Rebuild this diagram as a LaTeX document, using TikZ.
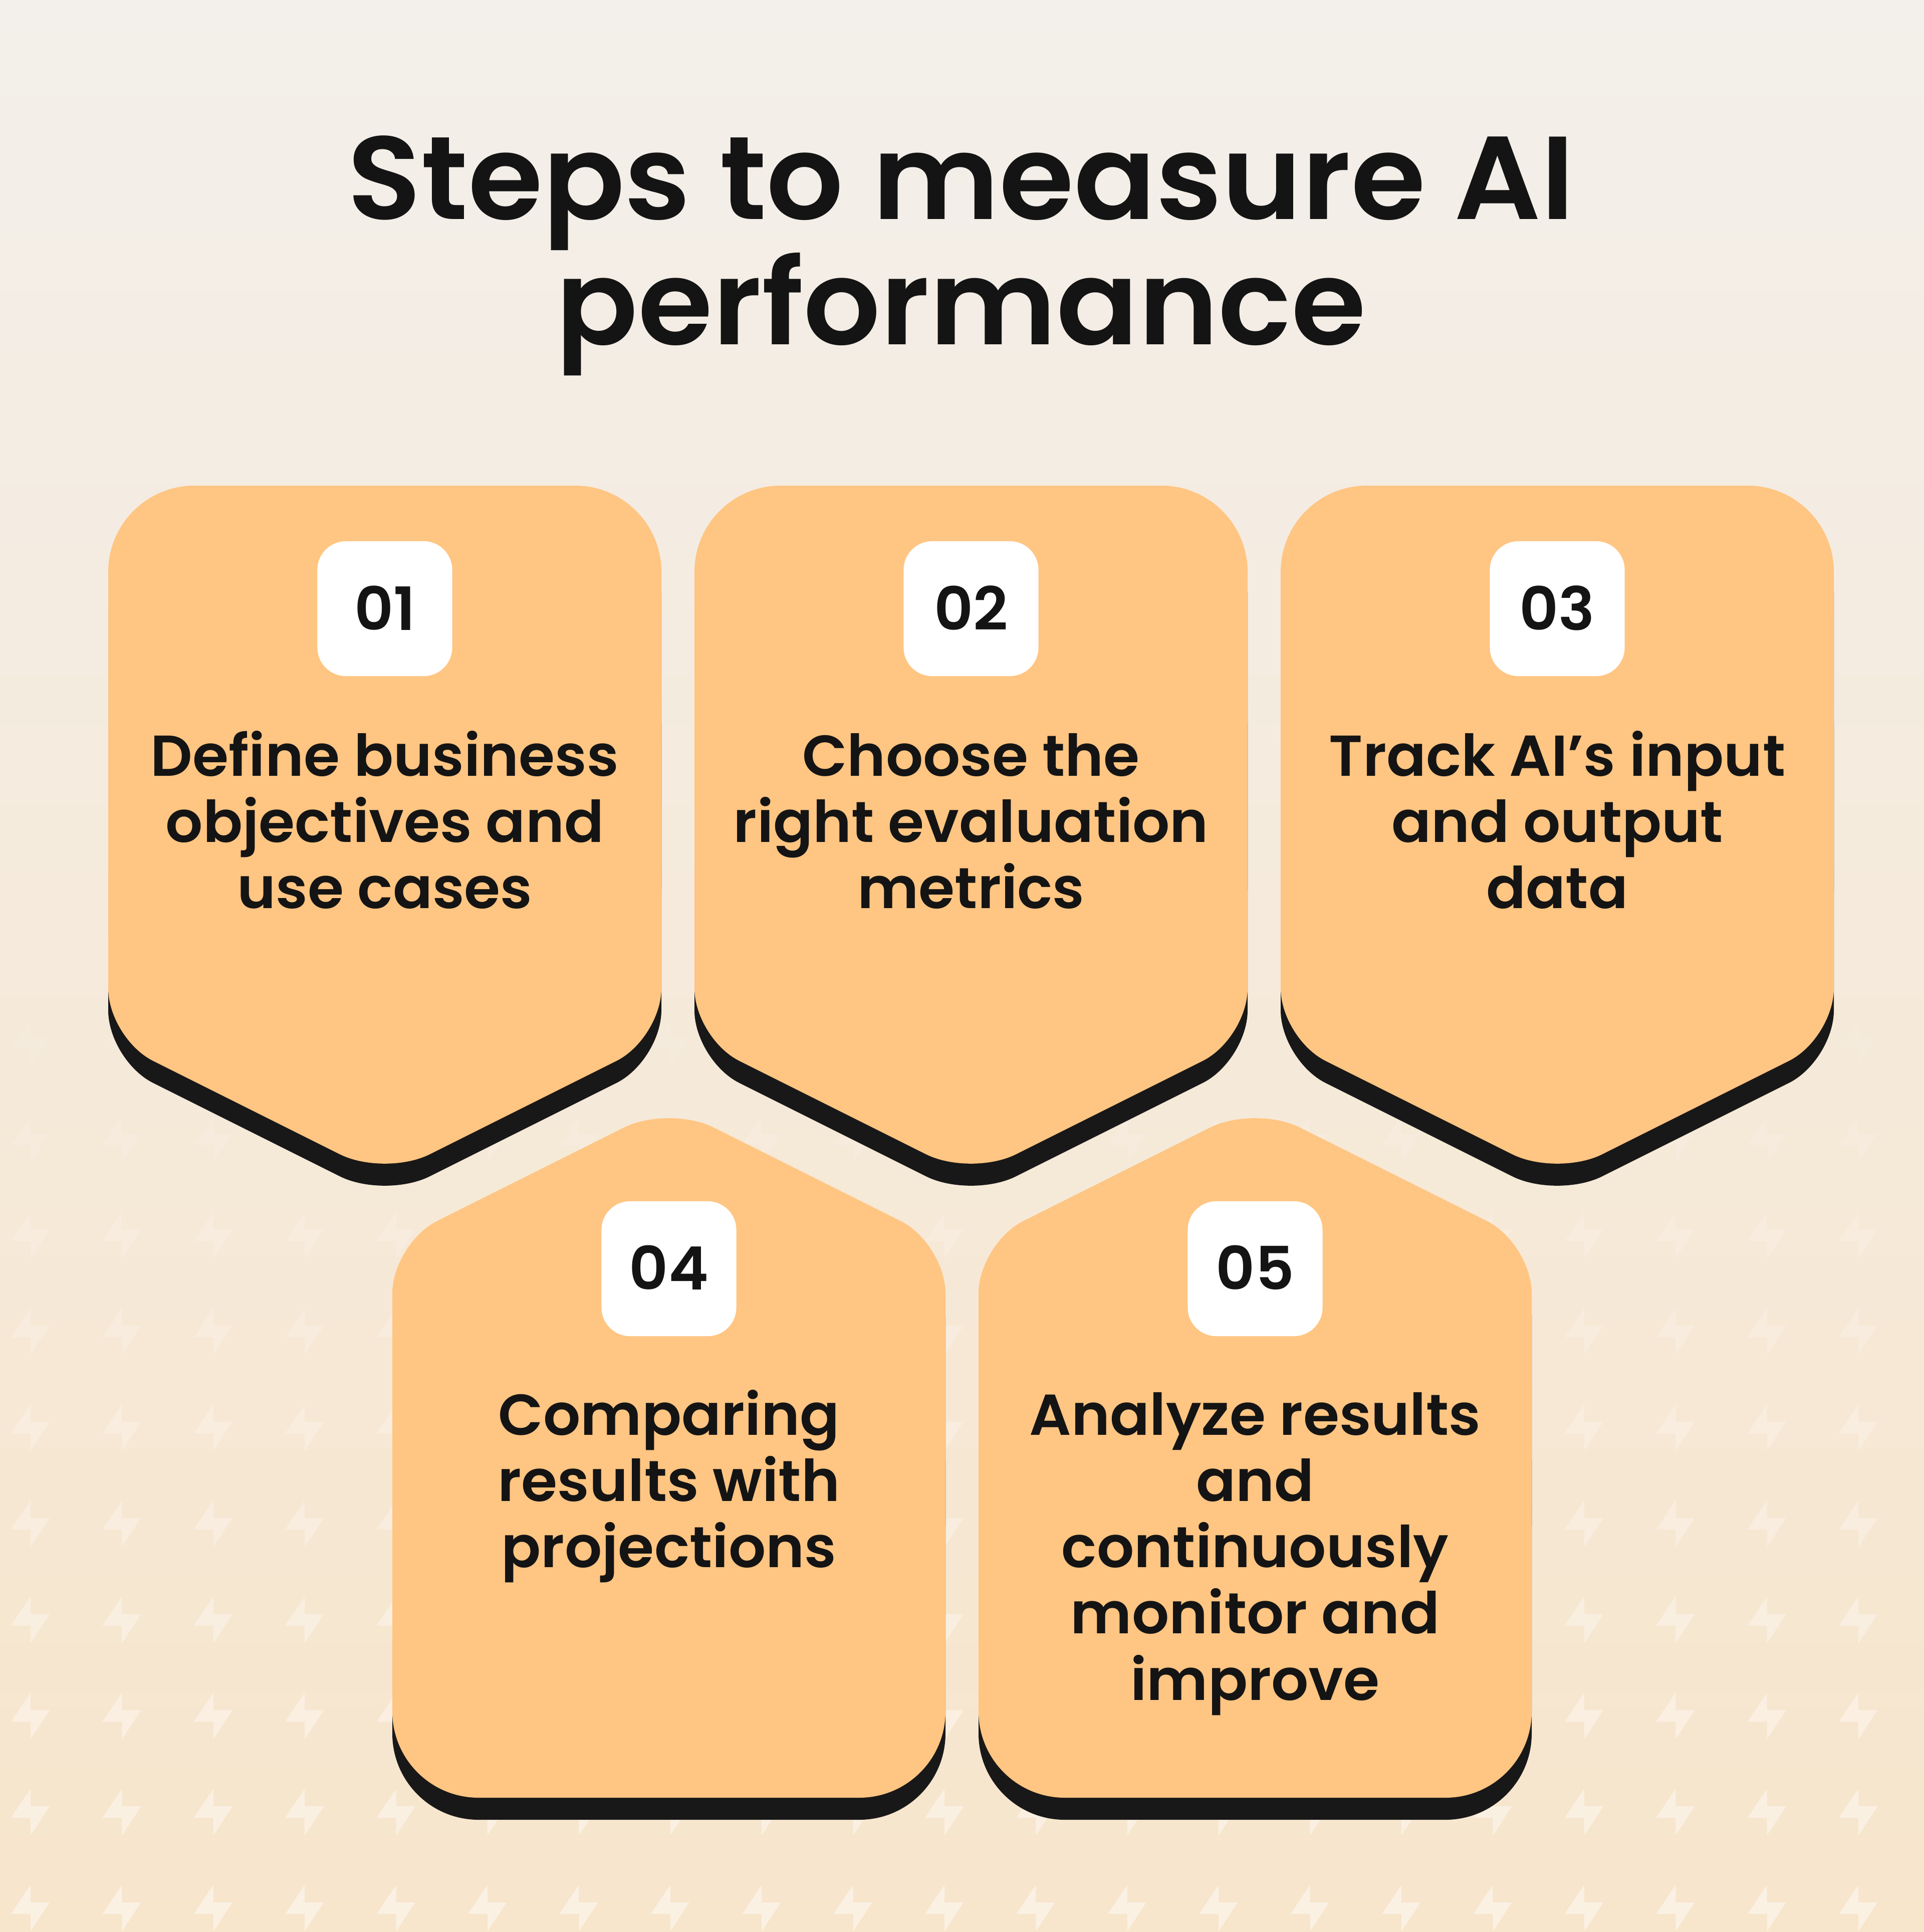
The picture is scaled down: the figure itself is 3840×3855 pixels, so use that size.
\documentclass[tikz,border=0pt]{standalone}
\usepackage{fontspec}
\setmainfont{Poppins}[BoldFont={Poppins SemiBold}, FakeStretch=1.015]
\newfontfamily\titlefont{Poppins}[BoldFont={Poppins SemiBold}, FakeStretch=1.025]
\definecolor{bgtop}{RGB}{243,239,234}
\definecolor{bgbot}{RGB}{247,229,204}
\definecolor{cardorange}{RGB}{255,197,130}
\definecolor{shadowblack}{RGB}{24,24,24}
\definecolor{inkblack}{RGB}{20,20,20}
\tikzset{
  cardfill/.style={fill=cardorange},
  shadowfill/.style={fill=shadowblack},
  numbox/.style={fill=white, rounded corners=0.57cm, minimum width=2.69cm, minimum height=2.69cm, inner sep=0pt},
  numtext/.style={font=\fontsize{33.9pt}{40pt}\selectfont\bfseries, text=inkblack, inner sep=0pt, anchor=base},
  cardtext/.style={font=\fontsize{32.7pt}{37.55pt}\selectfont\bfseries, text=inkblack, align=center, inner sep=0pt, anchor=north},
  titletext/.style={font=\titlefont\fontsize{67pt}{71.1pt}\selectfont\bfseries, text=inkblack, align=center, inner sep=0pt, anchor=north},
  bolt/.style={fill=white}
}
% card pointing down: #1 centre x, #2 style
\newcommand{\downcard}[2]{%
  \fill[#2, rounded corners=1.72cm] ({#1-552},-969) rectangle ({#1+552},-1900);
  \fill[#2, rounded corners=1cm] ({#1-552},-1300) -- ({#1-552},-2072) -- (#1,-2348) -- ({#1+552},-2072) -- ({#1+552},-1300) -- cycle;
}
% card pointing up: #1 centre x, #2 style
\newcommand{\upcard}[2]{%
  \fill[#2, rounded corners=1.72cm] ({#1-552},-2700) rectangle ({#1+552},-3587);
  \fill[#2, rounded corners=1cm] ({#1-552},-3100) -- ({#1-552},-2481) -- (#1,-2205) -- ({#1+552},-2481) -- ({#1+552},-3100) -- cycle;
}
\begin{document}
\begin{tikzpicture}[x=0.01cm, y=0.01cm]
\useasboundingbox (0,0) rectangle (3840,-3855);
\shade[top color=bgtop, bottom color=bgbot] (0,0) rectangle (3840,-3855);
% lightning pattern
\foreach \j in {0,...,9} {
  \pgfmathsetmacro\yy{3761-191.8*\j}
  \pgfmathsetmacro\op{max(0,(\yy-1700)/2000*0.45)}
  \foreach \i in {0,...,20} {
    \pgfmathsetmacro\xx{61+182.4*\i}
    \fill[bolt, fill opacity=\op] (\xx,-\yy) -- ++(0,-35) -- ++(38,0) -- (\xx,{-\yy-93}) -- (\xx,{-\yy-58}) -- ++(-39,0) -- cycle;
  }
}
% shadows
\begin{scope}[yshift=-0.44cm]
  \downcard{768}{shadowfill}
  \downcard{1938}{shadowfill}
  \downcard{3108}{shadowfill}
  \upcard{1335}{shadowfill}
  \upcard{2505}{shadowfill}
\end{scope}
% cards
\downcard{768}{cardfill}
\downcard{1938}{cardfill}
\downcard{3108}{cardfill}
\upcard{1335}{cardfill}
\upcard{2505}{cardfill}
% title
\node[titletext] (title) at (1918,-187) {\rule{0pt}{2.5cm}Steps to measure AI\\performance};
% number boxes
\node[numbox] (b1) at (768,-1214.5) {};
\node[numbox] (b2) at (1938,-1214.5) {};
\node[numbox] (b3) at (3108,-1214.5) {};
\node[numbox] (b4) at (1335,-2531.5) {};
\node[numbox] (b5) at (2505,-2531.5) {};
\node[numtext] (n1) at (768,-1257) {01};
\node[numtext] (n2) at (1938,-1257) {02};
\node[numtext] (n3) at (3108,-1257) {03};
\node[numtext] (n4) at (1335,-2573) {04};
\node[numtext] (n5) at (2505,-2573) {05};
% card texts
\node[cardtext] (t1) at (768,-1448) {\rule{0pt}{1cm}Define business\\objectives and\\use cases};
\node[cardtext] (t2) at (1938,-1448) {\rule{0pt}{1cm}Choose the\\right evaluation\\metrics};
\node[cardtext] (t3) at (3108,-1448) {\rule{0pt}{1cm}Track AI’s input\\and output\\data};
\node[cardtext] (t4) at (1335,-2763) {\rule{0pt}{1cm}Comparing\\results with\\projections};
\node[cardtext] (t5) at (2505,-2763) {\rule{0pt}{1cm}Analyze results\\and\\continuously\\monitor and\\improve};
\end{tikzpicture}
\end{document}
